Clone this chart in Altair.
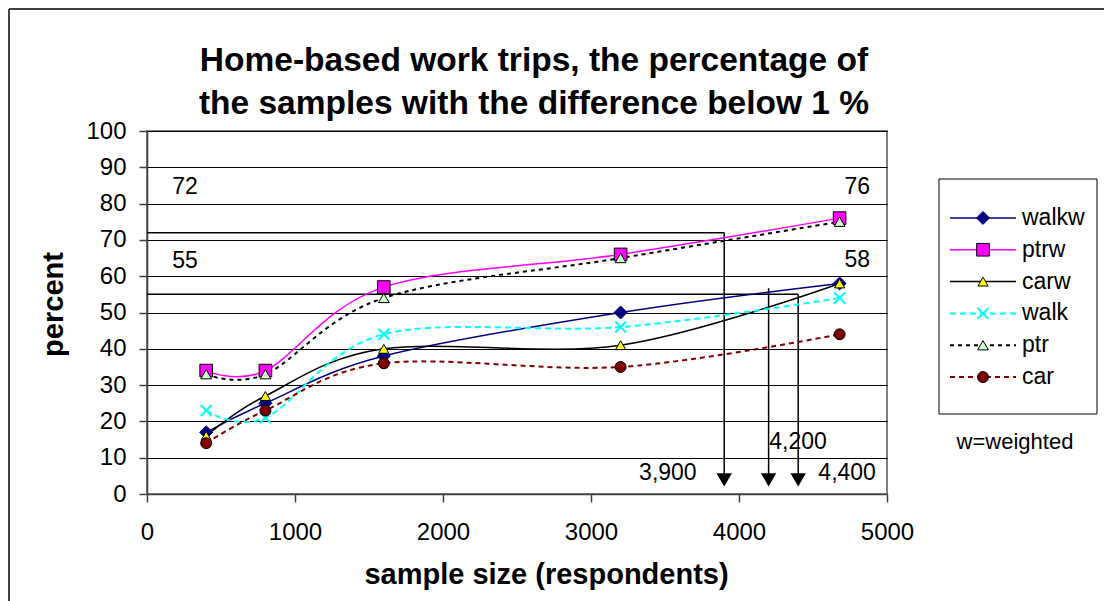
import altair as alt
import pandas as pd

# sample sizes (respondents) at which each series was evaluated
sample_size = [400, 800, 1600, 3200, 4680]

# percentage of samples with the difference below 1 %
walkw = [17, 25, 38, 50, 58]
ptrw = [34, 34, 57, 66, 76]
carw = [16, 27, 40, 41, 58]
walk = [23, 21, 44, 46, 54]
ptr = [33, 33, 54, 65, 75]
car = [14, 23, 36, 35, 44]

series_names = ["walkw", "ptrw", "carw", "walk", "ptr", "car"]
series_values = [walkw, ptrw, carw, walk, ptr, car]

# reference levels, the sample sizes where they are reached, and series maxima
levels = [72, 55]
level_sizes = [3900, 4400]
required_sizes = [3900, 4200, 4400]
arrow_tops = [72, 56.7, 55]
maxima = [76, 58]

title_lines = ["Home-based work trips, the percentage of",
               "the samples with the difference below 1 %"]

W, H = 740, 363
FONT = "Liberation Sans"

df = pd.DataFrame(
    [
        {"series": name, "sample_size": s, "percent": v}
        for name, vals in zip(series_names, series_values)
        for s, v in zip(sample_size, vals)
    ]
)

x_scale = alt.Scale(domain=[0, 5000], nice=False)
y_scale = alt.Scale(domain=[0, 100], nice=False)
x_axis = alt.Axis(
    values=[0, 1000, 2000, 3000, 4000, 5000], format="d", grid=False,
    title="sample size (respondents)", titleX=399, titleY=89,
    titleBaseline="alphabetic", titleAlign="center", labelPadding=18,
    labelFlush=False,
)
y_axis = alt.Axis(
    values=list(range(0, 101, 10)), grid=True, title="percent",
    titleX=-79, titleY=173, titleAngle=-90, titleBaseline="bottom",
    titleAlign="center", labelPadding=13, labelFlush=False,
)


def X(field):
    return alt.X(f"{field}:Q", scale=x_scale, axis=x_axis)


def Y(field):
    return alt.Y(f"{field}:Q", scale=y_scale, axis=y_axis)


styles = {
    "walkw": dict(line="#000080", width=1.5, dash=None, shape="diamond",
                  fill="#000080", stroke="#000080", size=170, sw=1),
    "ptrw": dict(line="#FF00FF", width=1.5, dash=None, shape="square",
                 fill="#FF00FF", stroke="#000000", size=160, sw=1),
    "carw": dict(line="#000000", width=1.5, dash=None, shape="triangle-up",
                 fill="#FFFF00", stroke="#000000", size=105, sw=1),
    "walk": dict(line="#00FFFF", width=2, dash=[6, 4],
                 shape="M-1,-1L1,1M-1,1L1,-1",
                 fill=None, stroke="#00FFFF", size=120, sw=2),
    "ptr": dict(line="#000000", width=2, dash=[4, 4], shape="triangle-up",
                fill="#CCFFCC", stroke="#000000", size=115, sw=1),
    "car": dict(line="#800000", width=2, dash=[5, 4], shape="circle",
                fill="#800000", stroke="#000000", size=120, sw=1),
}


def line_props(st):
    p = dict(color=st["line"], strokeWidth=st["width"])
    if st["dash"]:
        p["strokeDash"] = st["dash"]
    return p


def point_props(st):
    p = dict(shape=st["shape"], size=st["size"], stroke=st["stroke"],
             strokeWidth=st["sw"], opacity=1)
    if st["fill"]:
        p.update(filled=True, fill=st["fill"])
    else:
        p.update(filled=False)
    return p


# ---- annotations: reference levels and required sample sizes ----
levels_df = pd.DataFrame({"level": levels, "start": [0, 0], "end": level_sizes})
arrows_df = pd.DataFrame({"size": required_sizes, "top": arrow_tops,
                          "bottom": [4] * 3, "head": [3.9] * 3})

hlines = alt.Chart(levels_df).mark_rule(color="black", strokeWidth=1.5).encode(
    x=X("start"), x2="end:Q", y=Y("level"))
vlines = alt.Chart(arrows_df).mark_rule(color="black", strokeWidth=1.5).encode(
    x=X("size"), y=Y("top"), y2="bottom:Q")
heads = alt.Chart(arrows_df).mark_point(
    shape="triangle-down", filled=True, color="black", size=240, opacity=1
).encode(x=X("size"), y=Y("head"))


def label_layer(texts, xs, ys, align):
    d = pd.DataFrame({"label": texts, "lx": xs, "ly": ys})
    return alt.Chart(d).mark_text(
        font=FONT, fontSize=23, color="black", align=align, baseline="middle"
    ).encode(x=X("lx"), y=Y("ly"), text="label:N")


level_labels = label_layer([str(v) for v in levels], [170, 170], [84.7, 64.3], "left")
max_labels = label_layer([str(v) for v in maxima], [4885, 4885], [84.7, 64.5], "right")
size_labels = label_layer([f"{v:,}" for v in required_sizes],
                          [3714, 4593, 4925], [5.7, 14.4, 5.7], "right")

# ---- series lines and markers ----
line_layers = []
point_layers = []
for name in series_names:
    st = styles[name]
    base = alt.Chart(df).transform_filter(alt.datum.series == name)
    line_layers.append(
        base.mark_line(interpolate="cardinal", tension=0, **line_props(st))
        .encode(x=X("sample_size"), y=Y("percent"))
    )
    point_layers.append(
        base.mark_point(**point_props(st)).encode(x=X("sample_size"), y=Y("percent"))
    )

main = alt.layer(hlines, vlines, heads, *line_layers, *point_layers,
                 level_labels, max_labels, size_labels)

# ---- legend drawn beside the plot ----
legend_df = pd.DataFrame({"series": series_names})
one_row = pd.DataFrame({"k": [0]})
ly = alt.Y("series:N", scale=alt.Scale(domain=series_names, range=[71, 262], padding=0),
           axis=None)

legend_box = alt.Chart(one_row).mark_rect(fill="white", stroke="black", strokeWidth=1).encode(
    x=alt.value(792), x2=alt.value(950), y=alt.value(48), y2=alt.value(283))
legend_parts = [legend_box]
for name in series_names:
    st = styles[name]
    base = alt.Chart(legend_df).transform_filter(alt.datum.series == name)
    legend_parts.append(base.mark_rule(**line_props(st)).encode(
        x=alt.value(803), x2=alt.value(869), y=ly))
    legend_parts.append(base.mark_point(**point_props(st)).encode(x=alt.value(836), y=ly))
    legend_parts.append(base.mark_text(
        font=FONT, fontSize=23, color="black", align="left", baseline="middle"
    ).encode(x=alt.value(875), y=ly, text="series:N"))
note = alt.Chart(one_row).mark_text(
    font=FONT, fontSize=22, color="black", align="center", baseline="middle",
    text="w=weighted").encode(x=alt.value(868), y=alt.value(311))
legend_parts.append(note)
legend = alt.layer(*legend_parts)

# ---- two-line chart heading ----
heading = alt.Chart(one_row).mark_text(
    font=FONT, fontSize=33.5, fontWeight="bold", color="black", align="center",
    baseline="alphabetic", lineHeight=43, text=title_lines,
).encode(x=alt.value(387), y=alt.value(-60))

# ---- outer chart frame ----
frame_left = alt.Chart(one_row).mark_rule(color="#404040", strokeWidth=2).encode(
    x=alt.value(-138), y=alt.value(-122), y2=alt.value(490))
frame_top = alt.Chart(one_row).mark_rule(color="#404040", strokeWidth=2).encode(
    x=alt.value(-138), x2=alt.value(970), y=alt.value(-122))

chart = (
    alt.layer(frame_left, frame_top, heading, main, legend)
    .resolve_scale(y="independent")
    .properties(
        width=W,
        height=H,
        autosize=alt.AutoSizeParams(type="none"),
        padding={"left": 147, "top": 131, "right": 217, "bottom": 107},
        background="white",
    )
    .configure_view(stroke="#808080", strokeWidth=2)
    .configure_axis(
        labelFont=FONT, labelFontSize=24, labelColor="black",
        titleFont=FONT, titleFontSize=29, titleFontWeight="bold", titleColor="black",
        domainColor="#404040", domainWidth=1.5, tickColor="#404040",
        tickWidth=1.5, tickSize=8, gridColor="black", gridWidth=1, gridOpacity=1,
    )
)

chart.save("out.html", embed_options={"renderer": "svg", "actions": False})
